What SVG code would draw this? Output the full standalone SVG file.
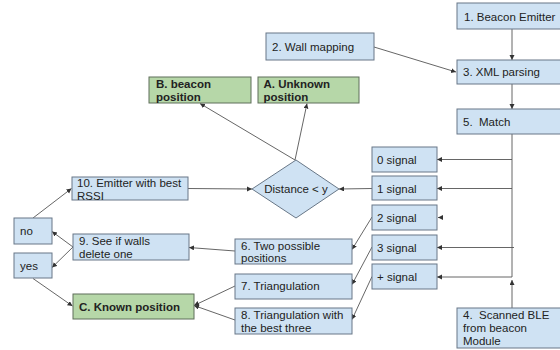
<svg xmlns="http://www.w3.org/2000/svg" width="560" height="350" viewBox="0 0 560 350">
<style>
text{font-family:"Liberation Sans",Arial,sans-serif;font-size:11.5px;fill:#222}
.b{fill:#cfe2f3;stroke:#687787;stroke-width:1}
.g{fill:#b6d7a8;stroke:#5f6f5a;stroke-width:1}
.bold{font-weight:bold}
.c{fill:none;stroke:#555;stroke-width:0.9}
</style>
<defs>
<marker id="ah" markerUnits="userSpaceOnUse" markerWidth="6" markerHeight="6" refX="5" refY="2.5" orient="auto">
<path d="M0,0 L5,2.5 L0,5 z" fill="#333"/>
</marker>
</defs>
<rect width="560" height="350" fill="#fff"/>
<g id="connectors">
<line class="c" x1="512" y1="29" x2="512" y2="60" marker-end="url(#ah)"/>
<line class="c" x1="512" y1="84" x2="512" y2="109" marker-end="url(#ah)"/>
<line class="c" x1="374" y1="47" x2="456" y2="72" marker-end="url(#ah)"/>
<polyline class="c" points="512,134 512,277 437,277" marker-end="url(#ah)"/>
<line class="c" x1="512" y1="159.5" x2="437" y2="159.5" marker-end="url(#ah)"/>
<line class="c" x1="512" y1="188.5" x2="437" y2="188.5" marker-end="url(#ah)"/>
<line class="c" x1="514" y1="247.5" x2="437" y2="247.5" marker-end="url(#ah)"/>
<line class="c" x1="442" y1="217.5" x2="438" y2="217.5" marker-end="url(#ah)"/>
<line class="c" x1="512" y1="308" x2="512" y2="280" marker-end="url(#ah)"/>
<line class="c" x1="372" y1="188.5" x2="339" y2="189" marker-end="url(#ah)"/>
<line class="c" x1="188" y1="188.5" x2="252" y2="189" marker-end="url(#ah)"/>
<line class="c" x1="295" y1="160" x2="200" y2="103.5" marker-end="url(#ah)"/>
<line class="c" x1="295" y1="160" x2="307" y2="103.5" marker-end="url(#ah)"/>
<line class="c" x1="372" y1="217" x2="352" y2="249.5" marker-end="url(#ah)"/>
<line class="c" x1="372" y1="247" x2="352" y2="284.5" marker-end="url(#ah)"/>
<line class="c" x1="372" y1="276.5" x2="352" y2="319.5" marker-end="url(#ah)"/>
<line class="c" x1="235" y1="251" x2="189" y2="247.5" marker-end="url(#ah)"/>
<line class="c" x1="235" y1="286" x2="194" y2="305.5" marker-end="url(#ah)"/>
<line class="c" x1="235" y1="320" x2="194" y2="305.5" marker-end="url(#ah)"/>
<line class="c" x1="73" y1="247" x2="52" y2="231.5" marker-end="url(#ah)"/>
<line class="c" x1="73" y1="247" x2="52" y2="267.5" marker-end="url(#ah)"/>
<line class="c" x1="33" y1="218" x2="71.5" y2="188.5" marker-end="url(#ah)"/>
<line class="c" x1="33" y1="278.5" x2="72.5" y2="306" marker-end="url(#ah)"/>
</g>
<g id="n1"><rect class="b" x="457" y="3" width="110" height="26"/><text x="464" y="20.5">1. Beacon Emitter</text></g>
<g id="n2"><rect class="b" x="266" y="33" width="108" height="27"/><text x="272" y="50.5">2. Wall mapping</text></g>
<g id="n3"><rect class="b" x="457" y="60" width="110" height="24"/><text x="463" y="76">3. XML parsing</text></g>
<g id="n5"><rect class="b" x="457" y="109" width="110" height="25"/><text x="463" y="125.5" xml:space="preserve">5.  Match</text></g>
<g id="nB"><rect class="g" x="149" y="77" width="102" height="26"/><text class="bold" x="156" y="88">B. beacon</text><text class="bold" x="156" y="100.5">position</text></g>
<g id="nA"><rect class="g" x="258" y="77" width="101" height="26"/><text class="bold" x="263.5" y="88">A. Unknown</text><text class="bold" x="263.5" y="100.5">position</text></g>
<g id="s0"><rect class="b" x="372" y="147" width="65" height="25"/><text x="377" y="163.5">0 signal</text></g>
<g id="s1"><rect class="b" x="372" y="176" width="65" height="24"/><text x="377" y="192.5">1 signal</text></g>
<g id="s2"><rect class="b" x="372" y="205" width="65" height="25"/><text x="377" y="221.5">2 signal</text></g>
<g id="s3"><rect class="b" x="372" y="235" width="65" height="25"/><text x="377" y="251.5">3 signal</text></g>
<g id="sp"><rect class="b" x="372" y="264" width="65" height="25"/><text x="377" y="280.5">+ signal</text></g>
<g id="dist"><polygon class="b" points="296,160 339,189 296,218 252,189"/><text x="296" y="193" text-anchor="middle">Distance &lt; y</text></g>
<g id="n10"><rect class="b" x="72" y="177" width="116" height="23"/><text x="77" y="187">10. Emitter with best</text><text x="77" y="199.5">RSSI</text></g>
<g id="nno"><rect class="b" x="14" y="218" width="38" height="26"/><text x="20" y="235">no</text></g>
<g id="nyes"><rect class="b" x="14" y="253" width="38" height="25"/><text x="20" y="269.5">yes</text></g>
<g id="n9"><rect class="b" x="73" y="234" width="116" height="26"/><text x="79" y="245">9. See if walls</text><text x="79" y="258">delete one</text></g>
<g id="n6"><rect class="b" x="235" y="239" width="117" height="25"/><text x="241" y="249.5">6. Two possible</text><text x="241" y="262">positions</text></g>
<g id="n7"><rect class="b" x="235" y="274" width="117" height="25"/><text x="241" y="290">7. Triangulation</text></g>
<g id="n8"><rect class="b" x="235" y="308" width="117" height="26"/><text x="241" y="318.5">8. Triangulation with</text><text x="241" y="331.5">the best three</text></g>
<g id="nC"><rect class="g" x="73" y="294" width="121" height="25"/><text class="bold" x="79" y="310.5">C. Known position</text></g>
<g id="n4"><rect class="b" x="457" y="308" width="110" height="40"/><text x="463" y="318.5" xml:space="preserve">4.  Scanned BLE</text><text x="463" y="331.5">from beacon</text><text x="463" y="344.5">Module</text></g>
</svg>
